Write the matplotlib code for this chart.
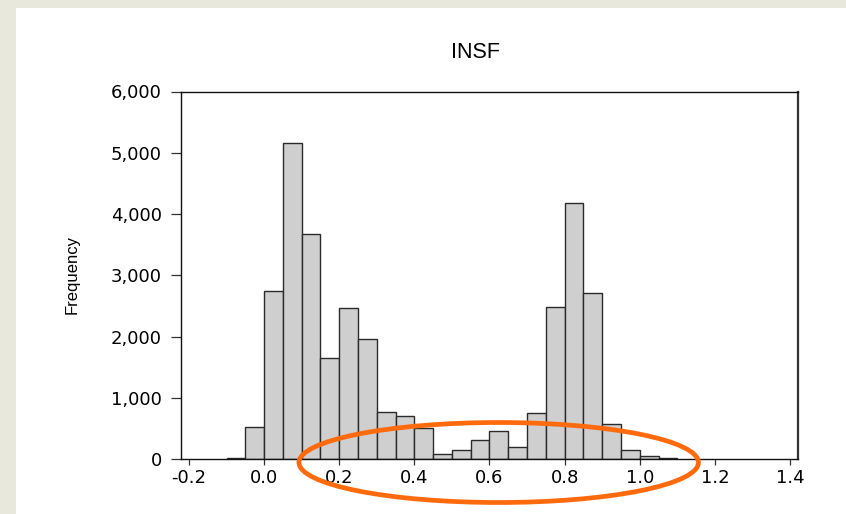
import matplotlib
matplotlib.use("Agg")
import matplotlib.pyplot as plt
import matplotlib.patches as patches
from matplotlib.ticker import FuncFormatter

# -------------------------------------------------
# data: histogram of INSF (bin start, width 0.05)
# -------------------------------------------------
bin_starts = [-0.10, -0.05, 0.00, 0.05, 0.10, 0.15, 0.20, 0.25, 0.30, 0.35,
              0.40, 0.45, 0.50, 0.55, 0.60, 0.65, 0.70, 0.75, 0.80, 0.85,
              0.90, 0.95, 1.00, 1.05]
counts = [16, 522, 2745, 5155, 3680, 1648, 2473, 1962, 767, 701,
          515, 82, 147, 315, 462, 206, 750, 2480, 4176, 2718,
          576, 147, 49, 21]
bin_width = 0.05

x_ticks = [-0.2, 0.0, 0.2, 0.4, 0.6, 0.8, 1.0, 1.2, 1.4]
y_ticks = [0, 1000, 2000, 3000, 4000, 5000, 6000]

title = "INSF"
y_label = "Frequency"

plt.rcParams['font.family'] = ['Liberation Sans', 'DejaVu Sans']

W, H = 846, 514
fig = plt.figure(figsize=(W / 100, H / 100), dpi=100)
fig.patch.set_facecolor('#e8e8dd')

# white panel (beige strip only on left and top)
panel = patches.Rectangle((16 / W, 0), 1 - 16 / W, 1 - 8 / H,
                          transform=fig.transFigure, facecolor='white',
                          edgecolor='none', zorder=0)
fig.add_artist(panel)

ax = fig.add_axes([180.5 / W, 1 - 459.3 / H, (797.7 - 180.5) / W, (459.3 - 91.5) / H])
ax.set_facecolor('white')

ax.bar(bin_starts, counts, width=bin_width, align='edge',
       color='#cfcfcf', edgecolor='#2b2b2b', linewidth=1.0)

ax.set_xlim(-0.2226, 1.4205)
ax.set_ylim(0, 6000)
ax.set_xticks(x_ticks)
ax.set_xticklabels([f"{v:.1f}" for v in x_ticks])
ax.set_yticks(y_ticks)
ax.yaxis.set_major_formatter(FuncFormatter(lambda v, p: f"{int(v):,}"))

ax.tick_params(axis='y', length=7, width=0.9, pad=6.5, labelsize=13, color='#333333')
ax.tick_params(axis='x', length=4, width=0.9, pad=3, labelsize=13, color='#333333')
# the original labels are wide, so a wider face fits them better
for lab in ax.get_xticklabels() + ax.get_yticklabels():
    lab.set_family('DejaVu Sans')

for side in ['left', 'top', 'bottom']:
    ax.spines[side].set_linewidth(1.0)
    ax.spines[side].set_color('#111111')
ax.spines['right'].set_linewidth(1.6)
ax.spines['right'].set_color('#333333')

fig.text(475 / W, 1 - 53 / H, title, ha='center', va='center', fontsize=15.5)
fig.text(72 / W, 1 - 275 / H, y_label, ha='center', va='center',
         rotation=90, fontsize=12)

# orange highlight ellipse
ell = patches.Ellipse((498.7 / W, 1 - 462.5 / H), 399.5 / W, 80 / H,
                      transform=fig.transFigure, fill=False,
                      edgecolor='#ff6a0d', linewidth=3.4, zorder=10)
fig.add_artist(ell)

fig.savefig("out.png", dpi=100)
